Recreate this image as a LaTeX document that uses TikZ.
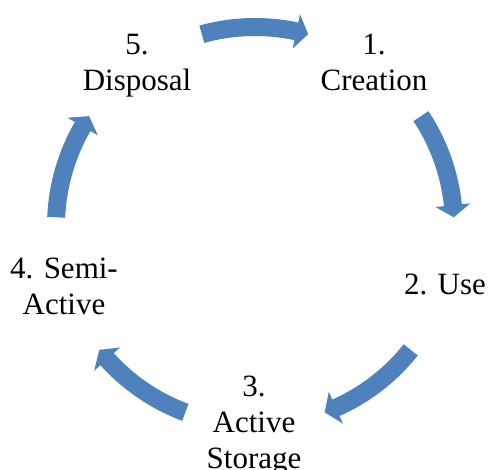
\documentclass[tikz,border=0pt]{standalone}
\usepackage{fontspec}
\setmainfont{Liberation Serif}
\usetikzlibrary{calc}
\definecolor{cycleblue}{HTML}{4F81BD}
\tikzset{
  stage/.style={anchor=base, inner sep=0pt, font=\fontsize{31}{36}\selectfont},
  cyclearrow/.style={fill=cycleblue, draw=none},
}
\newcommand{\stagetext}[1]{\begin{tabular}[t]{@{}c@{}}#1\end{tabular}}
\begin{document}
\begin{tikzpicture}[x=1pt,y=1pt]
\useasboundingbox (0,0) rectangle (489,470);
\coordinate (C) at (255,244);
% curved block arrows around the cycle (tail, body, head)
\foreach \m in {90,18,-54,-126,162} {
  \pgfmathsetmacro\ta{\m+15.5}
  \pgfmathsetmacro\tb{\m-15.5}
  \pgfmathsetmacro\th{\m-12}
  \fill[cyclearrow] ($(C)+(\ta:208)$) arc[start angle=\ta, end angle=\th, radius=208]
    -- ($(C)+(\th:216.5)$) -- ($(C)+(\tb:199)$) -- ($(C)+(\th:181.5)$)
    -- ($(C)+(\th:190)$) arc[start angle=\th, end angle=\ta, radius=190] -- cycle;
}
% stage labels
\node[stage] (creation) at (374,415) {\stagetext{1.\\Creation}};
\node[stage] (use) at (445,175) {2. Use};
\node[stage] (storage) at (254,73) {\stagetext{3.\\Active\\Storage}};
\node[stage] (semi) at (64,191) {\stagetext{4. Semi-\\Active}};
\node[stage] (disposal) at (137,415) {\stagetext{5.\\Disposal}};
\end{tikzpicture}
\end{document}
